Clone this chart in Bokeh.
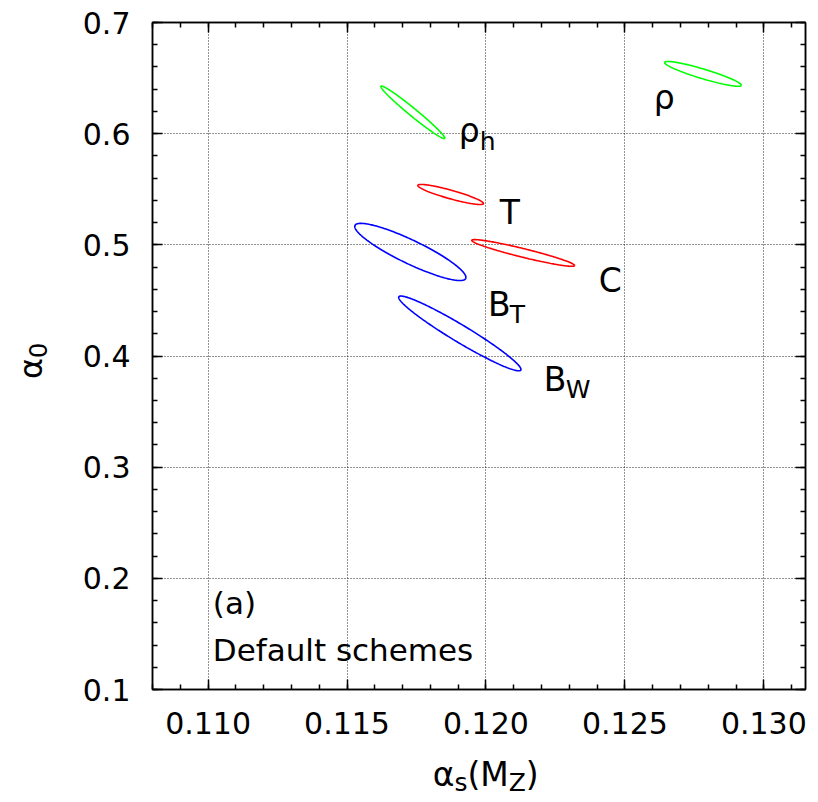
import numpy as np
from bokeh.plotting import figure
from bokeh.models import (Range1d, FixedTicker, PrintfTickFormatter,
                          LinearAxis, Label, ColumnDataSource)
from bokeh.core.properties import value
from bokeh.embed import file_html
from bokeh.resources import INLINE

# ---- data: confidence ellipses (center, half major vector, vertical half-thickness)
names = ["rho", "rho_h", "T", "C", "B_T", "B_W"]
center_x = [0.12781, 0.11737, 0.11873, 0.12134, 0.11728, 0.11906]
center_y = [0.6538, 0.6192, 0.5453, 0.4927, 0.4936, 0.4203]
half_dx = [0.00138, 0.00115, 0.00118, 0.00185, 0.00200, 0.00220]
half_dy = [-0.0102, -0.0232, -0.0081, -0.0113, -0.0229, -0.0324]
half_h = [0.0045, 0.0045, 0.0040, 0.0040, 0.0117, 0.0090]
colors = ["#00ff00", "#00ff00", "#ff0000", "#ff0000", "#0000ff", "#0000ff"]

x_ticks = [0.110, 0.115, 0.120, 0.125, 0.130]
y_ticks = [0.1, 0.2, 0.3, 0.4, 0.5, 0.6, 0.7]
x_minor = [round(v, 3) for v in np.arange(0.108, 0.1316, 0.001)]
y_minor = [round(v, 2) for v in np.arange(0.1, 0.7001, 0.02)]

FONT = "DejaVu Sans"

p = figure(frame_width=653, frame_height=667,
           x_range=Range1d(0.108, 0.1315), y_range=Range1d(0.1, 0.7),
           output_backend="svg", toolbar_location=None,
           min_border_left=152, min_border_right=5,
           min_border_top=22, min_border_bottom=111)

p.outline_line_color = "black"
p.outline_line_width = 1.5
p.background_fill_color = "white"
p.border_fill_color = "white"

def style_axis(ax, ticks, minor, fmt, show_labels):
    ax.ticker = FixedTicker(ticks=ticks, minor_ticks=minor)
    ax.formatter = PrintfTickFormatter(format=fmt)
    ax.axis_line_color = "black"
    ax.axis_line_width = 1.5
    ax.major_tick_in = 10
    ax.major_tick_out = 0
    ax.minor_tick_in = 5
    ax.minor_tick_out = 0
    ax.major_tick_line_width = 1.5
    ax.minor_tick_line_width = 1.5
    ax.major_tick_line_color = "black"
    ax.minor_tick_line_color = "black"
    if show_labels:
        ax.major_label_text_font = FONT
        ax.major_label_text_font_size = "30px"
        ax.major_label_text_color = "black"
    else:
        ax.major_label_text_font_size = "1px"
        ax.major_label_text_color = None
        ax.major_label_standoff = 0

style_axis(p.xaxis[0], x_ticks, x_minor, "%.3f", True)
style_axis(p.yaxis[0], y_ticks, y_minor, "%.1f", True)
p.xaxis[0].major_label_standoff = 22
p.yaxis[0].major_label_standoff = 22

top_ax = LinearAxis()
right_ax = LinearAxis()
style_axis(top_ax, x_ticks, x_minor, "%.3f", False)
style_axis(right_ax, y_ticks, y_minor, "%.1f", False)
p.add_layout(top_ax, "above")
p.add_layout(right_ax, "right")

p.xgrid[0].ticker = FixedTicker(ticks=x_ticks)
p.ygrid[0].ticker = FixedTicker(ticks=y_ticks)
for g in (p.xgrid[0], p.ygrid[0]):
    g.grid_line_color = "black"
    g.grid_line_dash = "1 2"
    g.grid_line_width = 1
    g.grid_line_alpha = 0.85

# ---- ellipses
t = np.linspace(0, 2 * np.pi, 240)
for cx, cy, ux, uy, h, c in zip(center_x, center_y, half_dx, half_dy, half_h, colors):
    xs = cx + ux * np.cos(t)
    ys = cy + uy * np.cos(t) + h * np.sin(t)
    p.line(xs, ys, line_color=c, line_width=1.6)

# ---- text labels inside the frame
def lab(x, y, text, size):
    p.add_layout(Label(x=x, y=y, text=text, text_font=FONT,
                       text_font_size=size, text_color="black",
                       text_align="left", text_baseline="alphabetic"))

MAIN, SUB = "33px", "25px"
lab(0.12604, 0.6328, "ρ", MAIN)
lab(0.11902, 0.6032, "ρ", MAIN)
lab(0.11978, 0.5933, "h", SUB)
lab(0.12050, 0.5294, "T", MAIN)
lab(0.12406, 0.4683, "C", MAIN)
lab(0.12007, 0.4467, "B", MAIN)
lab(0.12086, 0.4377, "T", SUB)
lab(0.12208, 0.3792, "B", MAIN)
lab(0.12287, 0.3702, "W", SUB)
lab(0.11017, 0.1778, "(a)", "31px")
lab(0.11017, 0.1355, "Default schemes", "31px")

# ---- axis titles (drawn as unclipped text glyphs outside the frame)
def title_piece(x, y, text, size, angle=0.0):
    src = ColumnDataSource(dict(x=[x], y=[y], text=[text]))
    p.text(x="x", y="y", text="text", source=src, angle=angle,
           text_font=value(FONT), text_font_size=value(size),
           text_color="black", text_align="left",
           text_baseline="alphabetic", level="overlay")

title_piece(0.118086, 0.0231, "α", "33px")
title_piece(0.118867, 0.0159, "s", "25px")
title_piece(0.119335, 0.0231, "(M", "33px")
title_piece(0.120820, 0.0159, "Z", "25px")
title_piece(0.121435, 0.0231, ")", "33px")

title_piece(0.10363, 0.3792, "α", "32px", angle=np.pi / 2)
title_piece(0.10388, 0.3981, "0", "24px", angle=np.pi / 2)

open("out.html", "w").write(file_html(p, INLINE))
